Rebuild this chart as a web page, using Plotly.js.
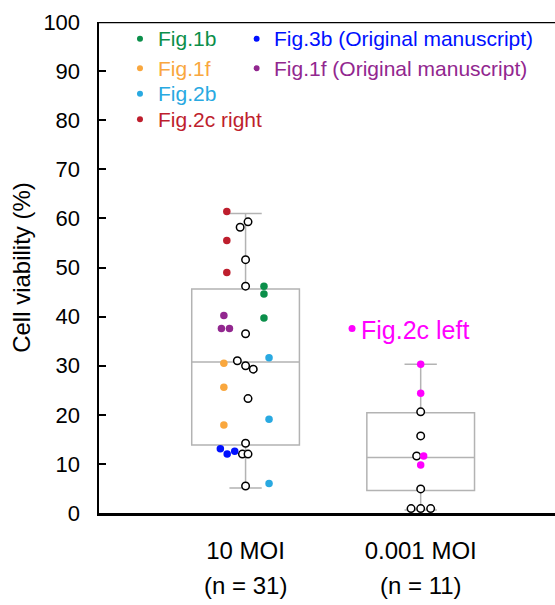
<!DOCTYPE html>
<html>
<head>
<meta charset="utf-8">
<script src="https://cdn.plot.ly/plotly-3.0.1.min.js"></script>
<style>html,body{margin:0;padding:0;background:#fff;}#chart{width:555px;height:605px;}</style>
</head>
<body>
<div id="chart"></div>
<script>
// ---- categories ----
const categories = ["10 MOI", "0.001 MOI"];

// ---- point values per source (cell viability %) ----
const fig1b       = [46.2, 44.6, 39.7];           // 10 MOI
const fig1f       = [30.5, 25.6, 17.9];           // 10 MOI
const fig2b       = [31.6, 19.1, 6.0];            // 10 MOI
const fig2cRight  = [61.4, 55.5, 49.0];           // 10 MOI
const fig3bOrig   = [13.1, 12.6, 12.0];           // 10 MOI
const fig1fOrig   = [40.2, 37.6, 37.6];           // 10 MOI
const other10     = [59.3, 58.2, 51.6, 46.2, 36.5, 31.0, 30.0, 29.3, 23.3, 14.2, 12.0, 12.0, 5.5];
const fig2cLeft   = [30.3, 24.4, 11.6, 9.8];      // 0.001 MOI
const other0001   = [20.6, 15.7, 11.6, 4.9, 0.9, 0.9, 0.9];

// ---- box statistics ----
const boxQ1     = [13.85, 4.6];
const boxMedian = [30.75, 11.3];
const boxQ3     = [45.6, 20.4];
const boxLower  = [5.1, 0.6];
const boxUpper  = [61.0, 30.3];

// ---- horizontal scatter offsets (layout only) ----
const jit = {
  fig1b: [0.105, 0.105, 0.105],
  fig1f: [-0.124, -0.124, -0.124],
  fig2b: [0.134, 0.134, 0.134],
  fig2cRight: [-0.107, -0.107, -0.107],
  fig3bOrig: [-0.144, -0.062, -0.105],
  fig1fOrig: [-0.124, -0.138, -0.092],
  other10: [0.014, -0.031, 0, 0, 0, -0.047, 0, 0.044, 0.014, 0, -0.018, 0.014, 0],
  fig2cLeft: [0, 0, 0.017, 0],
  other0001: [0, 0, -0.023, 0, -0.055, 0, 0.057]
};

const FONT = '"Liberation Sans", Arial, Helvetica, sans-serif';
const colors = {
  fig1b: '#0b8f4a', fig1f: '#f9a73e', fig2b: '#29a9e1', fig2cRight: '#be1e2d',
  fig3bOrig: '#0010ff', fig1fOrig: '#92278f', fig2cLeft: '#ff00ff'
};

const n = [
  fig1b.length + fig1f.length + fig2b.length + fig2cRight.length + fig3bOrig.length + fig1fOrig.length + other10.length,
  fig2cLeft.length + other0001.length
];

function pts(vals, group, offs, color, open) {
  return {
    type: 'scatter', mode: 'markers', showlegend: false, cliponaxis: false,
    x: vals.map((v, i) => group + offs[i]), y: vals,
    marker: open
      ? {size: 7.5, color: '#ffffff', line: {color: '#000000', width: 1.5}}
      : {size: 7.5, color: color, line: {width: 0}},
    hoverinfo: 'y'
  };
}

const data = [
  {
    type: 'box', x: [0, 1], q1: boxQ1, median: boxMedian, q3: boxQ3,
    lowerfence: boxLower, upperfence: boxUpper, width: 0.615, whiskerwidth: 0.3,
    fillcolor: 'rgba(0,0,0,0)', line: {color: '#b3b3b3', width: 1.5},
    boxpoints: false, showlegend: false, hoverinfo: 'skip'
  },
  pts(other10, 0, jit.other10, null, true),
  pts(fig1b, 0, jit.fig1b, colors.fig1b),
  pts(fig1f, 0, jit.fig1f, colors.fig1f),
  pts(fig2b, 0, jit.fig2b, colors.fig2b),
  pts(fig2cRight, 0, jit.fig2cRight, colors.fig2cRight),
  pts(fig3bOrig, 0, jit.fig3bOrig, colors.fig3bOrig),
  pts(fig1fOrig, 0, jit.fig1fOrig, colors.fig1fOrig),
  pts(other0001, 1, jit.other0001, null, true),
  pts(fig2cLeft, 1, jit.fig2cLeft, colors.fig2cLeft)
];

// legend entries (label, colour, dot x, text x, y)
const legendItems = [
  ['Fig.1b', colors.fig1b, -0.603, -0.514, 96.6],
  ['Fig.1f', colors.fig1f, -0.603, -0.514, 90.6],
  ['Fig.2b', colors.fig2b, -0.603, -0.514, 85.4],
  ['Fig.2c right', colors.fig2cRight, -0.603, -0.514, 80.2],
  ['Fig.3b (Original manuscript)', colors.fig3bOrig, 0.063, 0.151, 96.6],
  ['Fig.1f (Original manuscript)', colors.fig1fOrig, 0.063, 0.151, 90.6]
];

const annotations = legendItems.map(it => ({
  x: it[3], y: it[4], xref: 'x', yref: 'y', text: it[0], showarrow: false,
  xanchor: 'left', yanchor: 'middle', font: {family: FONT, size: 21, color: it[1]}
}));
annotations.push({
  x: 0.645, y: 37.2, xref: 'x', yref: 'y', text: 'Fig.2c left', showarrow: false,
  xanchor: 'left', yanchor: 'middle', font: {family: FONT, size: 25, color: colors.fig2cLeft}
});
categories.forEach((c, i) => annotations.push({
  x: i, y: 0, xref: 'x', yref: 'paper', yshift: -72, text: '(n = ' + n[i] + ')',
  showarrow: false, xanchor: 'center', yanchor: 'middle',
  font: {family: FONT, size: 24, color: '#000'}
}));

const shapes = legendItems.map(it => ({
  type: 'circle', xref: 'x', yref: 'y', xsizemode: 'pixel', ysizemode: 'pixel',
  xanchor: it[2], yanchor: it[4], x0: -3, x1: 3, y0: -3, y1: 3,
  fillcolor: it[1], line: {width: 0}
}));
shapes.push({
  type: 'circle', xref: 'x', yref: 'y', xsizemode: 'pixel', ysizemode: 'pixel',
  xanchor: 0.608, yanchor: 37.6, x0: -3.5, x1: 3.5, y0: -3.5, y1: 3.5,
  fillcolor: colors.fig2cLeft, line: {width: 0}
});
shapes.push({
  type: 'line', xref: 'paper', yref: 'y', x0: 0, x1: 1, y0: 100, y1: 100,
  line: {color: '#000', width: 2.5}
});

const layout = {
  width: 555, height: 605,
  margin: {l: 99, r: 0, t: 22, b: 92},
  paper_bgcolor: '#fff', plot_bgcolor: '#fff',
  font: {family: FONT, color: '#000'},
  showlegend: false,
  xaxis: {
    range: [-0.837, 1.767], tickvals: [0, 1], ticktext: categories,
    showgrid: false, zeroline: false, showline: true, linecolor: '#000', linewidth: 2.5,
    ticks: '', tickfont: {family: FONT, size: 24, color: '#000'}, ticklabelstandoff: 15
  },
  yaxis: {
    range: [0, 100], tickvals: [0,10,20,30,40,50,60,70,80,90,100],
    showgrid: false, zeroline: false, showline: true, linecolor: '#000', linewidth: 2.5,
    ticks: 'inside', ticklen: 7, tickwidth: 2, tickcolor: '#000',
    tickfont: {family: FONT, size: 22, color: '#000'}, ticklabelstandoff: 12,
    title: {text: 'Cell viability (%)', font: {family: FONT, size: 24, color: '#000'}, standoff: 6}
  },
  annotations: annotations,
  shapes: shapes
};

Plotly.newPlot('chart', data, layout, {displayModeBar: false, staticPlot: true});
</script>
</body>
</html>
